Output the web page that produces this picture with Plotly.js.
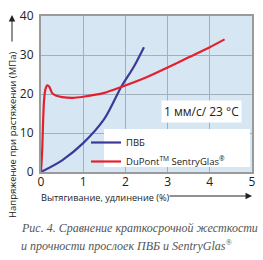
<!DOCTYPE html>
<html>
<head>
<meta charset="utf-8">
<script src="https://cdn.plot.ly/plotly-3.0.1.min.js"></script>
<style>html,body{margin:0;padding:0;background:#fff;}#chart{width:263px;height:260px;}</style>
</head>
<body>
<div id="chart"></div>
<script>
// Data
var pvbStrain   = [0, 0.5, 1.0, 1.5, 1.9, 2.2, 2.44];
var pvbStress   = [0, 3.0, 7.4, 13.6, 21.8, 27.0, 32.0];
var sgStrain    = [0, 0.03, 0.05, 0.07, 0.10, 0.15, 0.20, 0.26, 0.35, 0.5, 0.75, 1.0, 1.5, 1.9, 2.5, 3.0, 3.5, 4.0, 4.35];
var sgStress    = [0, 6, 13, 18, 21, 22.2, 21.8, 20.3, 19.6, 19.2, 19.0, 19.3, 20.3, 21.8, 24.3, 26.8, 29.4, 32.0, 34.0];
var seriesNames = ['ПВБ', 'DuPont<sup>TM</sup> SentryGlas<sup>®</sup>'];
var xTicks = [0, 1, 2, 3, 4, 5];
var yTicks = [0, 10, 20, 30, 40];

var traces = [
  {x: pvbStrain, y: pvbStress, name: seriesNames[0], mode: 'lines',
   line: {color: '#3b3a98', width: 2.2, shape: 'spline', smoothing: 0.8}},
  {x: sgStrain, y: sgStress, name: seriesNames[1], mode: 'lines',
   line: {color: '#e5202e', width: 2.2, shape: 'spline', smoothing: 0.6}}
];

var P = function(px){ return (px - 41) / 211; };
var Q = function(py){ return (172 - py) / 156; };

var layout = {
  width: 263, height: 260,
  margin: {l: 41, r: 11, t: 16, b: 88},
  paper_bgcolor: '#ffffff',
  plot_bgcolor: '#d6e6f2',
  font: {family: 'Open Sans, sans-serif', color: '#222'},
  showlegend: true,
  legend: {x: P(86), y: Q(128), xanchor: 'left', yanchor: 'top',
           bgcolor: 'rgba(0,0,0,0)', borderwidth: 0,
           font: {size: 9.5, color: '#222'}, tracegroupgap: 0, itemwidth: 30},
  xaxis: {range: [0, 5], tickvals: xTicks, ticks: '', showgrid: true,
          gridcolor: '#9fb1c0', gridwidth: 1, zeroline: false,
          showline: true, linecolor: '#9a9a9a', linewidth: 2, mirror: true,
          tickfont: {size: 12, color: '#222'}, ticklabelstandoff: -2, fixedrange: true},
  yaxis: {range: [0, 40], tickvals: yTicks, ticks: '', showgrid: true,
          gridcolor: '#9fb1c0', gridwidth: 1, zeroline: false,
          showline: true, linecolor: '#9a9a9a', linewidth: 2, mirror: true,
          tickfont: {size: 12, color: '#222'}, ticklabelstandoff: 3, fixedrange: true},
  shapes: [
    {type: 'rect', xref: 'paper', yref: 'paper', x0: P(104), x1: P(250), y0: Q(167), y1: Q(129),
     fillcolor: '#ffffff', line: {width: 0}, layer: 'above'}
  ],
  annotations: [
    {xref: 'paper', yref: 'paper', x: P(201), y: Q(111), xanchor: 'center', yanchor: 'middle',
     text: '1 мм/с/ 23 °C', showarrow: false, bgcolor: '#ffffff', borderpad: 2,
     font: {size: 12, color: '#222'}},
    {xref: 'paper', yref: 'paper', x: P(40), y: Q(197), xanchor: 'left', yanchor: 'middle',
     text: 'Вытягивание, удлинение (%)', showarrow: false, borderpad: 0,
     font: {size: 9.2, color: '#222'}},
    {xref: 'paper', yref: 'paper', x: P(252), y: Q(196), ax: -84, ay: 0, text: '',
     showarrow: true, arrowhead: 2, arrowsize: 1.3, arrowwidth: 1, arrowcolor: '#222'},
    {xref: 'paper', yref: 'paper', x: P(12), y: Q(135), xanchor: 'center', yanchor: 'middle',
     text: 'Напряжение при растяжении (МПа)', textangle: -90, showarrow: false,
     font: {size: 9.5, color: '#222'}},
    {xref: 'paper', yref: 'paper', x: P(12), y: Q(15), ax: 0, ay: 28, text: '',
     showarrow: true, arrowhead: 2, arrowsize: 1.3, arrowwidth: 1, arrowcolor: '#222'},
    {xref: 'paper', yref: 'paper', x: P(19), y: Q(228), xanchor: 'left', yanchor: 'middle',
     text: 'Рис. 4. Сравнение краткосрочной жесткости', showarrow: false,
     font: {family: 'Liberation Serif, serif', size: 12, color: '#555', style: 'italic'}},
    {xref: 'paper', yref: 'paper', x: P(19), y: Q(245), xanchor: 'left', yanchor: 'middle',
     text: 'и прочности прослоек ПВБ и SentryGlas<sup>®</sup>', showarrow: false,
     font: {family: 'Liberation Serif, serif', size: 12, color: '#555', style: 'italic'}}
  ]
};

Plotly.newPlot('chart', traces, layout, {displayModeBar: false, staticPlot: true});
</script>
</body>
</html>
